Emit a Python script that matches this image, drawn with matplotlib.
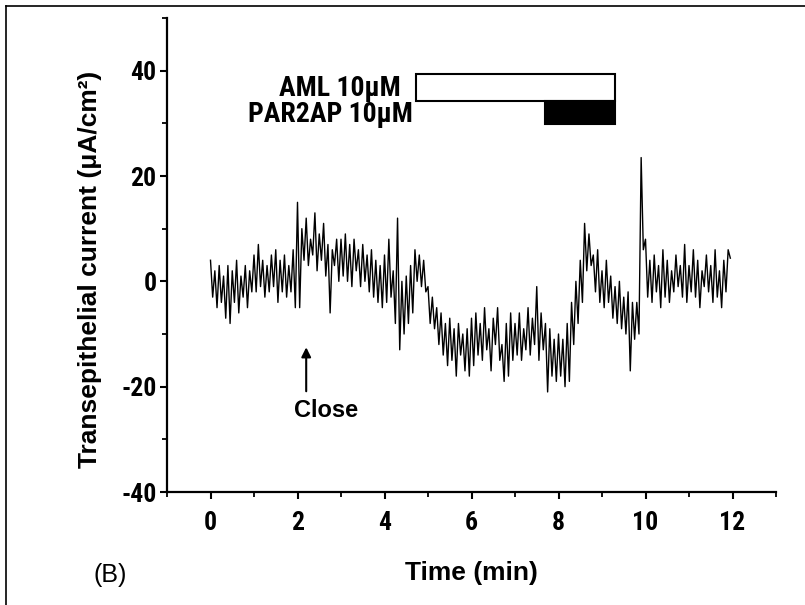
import numpy as np
import matplotlib
matplotlib.use("Agg")
import matplotlib.pyplot as plt
from matplotlib.patches import Rectangle
from matplotlib.lines import Line2D
from matplotlib.ticker import MultipleLocator
from matplotlib import font_manager

# ---- data (0.1 min steps, upper / lower envelope of the noisy trace)
time_start = 0.0
time_step = 0.1
trace_hi = [4, 2, 3, 1, 3, 2, 4, 1, 3, 2,
            5, 7, 4, 3, 5, 6, 4, 5, 3, 6,
            15, 10, 12, 8, 13, 9, 11, 7, 6, 8,
            8, 9, 7, 8, 6, 7, 5, 6, 4, 3,
            5, 8, 2, 12, 0, 1, 3, 6, 5, 4,
            -1, -3, -5, -6, -8, -7, -9, -8, -10, -9,
            -7, -6, -8, -5, -9, -7, -5, -12, -8, -6,
            -8, -6, -9, -5, -7, -1, -6, -8, -9, -11,
            -10, -11, -8, -4, 0, 4, 11, 9, 5, 6,
            2, 4, 1, -1, 0, -3, -2, -4, -4, 23.5,
            8, 4, 5, 3, 6, 4, 2, 5, 3, 7,
            3, 6, 4, 2, 5, 3, 6, 2, 4, 6]
trace_lo = [-3, -5, -4, -7, -8, -4, -6, -3, -5, -2,
            -2, -1, -3, -2, -1, -4, -2, -3, -2, -5,
            -5, 4, 3, 5, 2, 4, 1, -6, 3, 0,
            1, 0, -1, 2, -1, 0, -2, -3, -4, -5,
            -4, -3, -8, -13, -10, -8, -6, 0, -1, -2,
            -8, -9, -12, -14, -16, -15, -18, -14, -17, -18,
            -16, -14, -15, -13, -17, -12, -15, -19, -18, -15,
            -14, -15, -13, -14, -12, -15, -13, -21, -18, -19,
            -18, -20, -19, -12, -8, -4, 2, 3, -2, -4,
            -5, -4, -7, -8, -9, -10, -17, -11, -10, 6,
            -3, -4, -2, -5, -3, -4, -2, -1, -3, -4,
            -2, -3, -5, -1, -2, -4, -3, -5, -2, 4.4]

xticks = [0, 2, 4, 6, 8, 10, 12]
yticks = [-40, -20, 0, 20, 40]

# treatment bars (start, end in min)
aml_label = "AML 10μM"
aml_span = (4.72, 9.29)
par_label = "PAR2AP 10μM"
par_span = (7.68, 9.29)
close_time = 2.2

# ---- build the trace by interleaving the envelopes
hi = np.array(trace_hi, float)
lo = np.array(trace_lo, float)
t_hi = time_start + np.arange(len(hi)) * time_step
t_lo = t_hi + time_step / 2
t = np.empty(len(hi) * 2)
y = np.empty(len(hi) * 2)
t[0::2], t[1::2] = t_hi, t_lo
y[0::2], y[1::2] = hi, lo

plt.rcParams['font.family'] = ['Liberation Sans', 'DejaVu Sans']
plt.rcParams['axes.unicode_minus'] = False


def pick_narrow():
    for name in ['Liberation Sans Narrow', 'Arial Narrow', 'Roboto Condensed',
                 'Open Sans Condensed']:
        try:
            font_manager.findfont(font_manager.FontProperties(family=name),
                                  fallback_to_default=False)
            return [name, 'Liberation Sans', 'DejaVu Sans']
        except Exception:
            pass
    return ['Liberation Sans', 'DejaVu Sans']


narrow = pick_narrow()
narrow_is_real = narrow[0] != 'Liberation Sans'
tick_fs = 18.5 if narrow_is_real else 16
note_fs = 20 if narrow_is_real else 17

fig = plt.figure(figsize=(8.05, 6.05), dpi=100)
ax = fig.add_axes([167/805, 1 - 492/605, (776-167)/805, (492-18)/605])

ax.plot(t, y, color='black', lw=1.0)

ax.set_xlim(-1, 13)
ax.set_ylim(-40, 50)
ax.set_xticks(xticks)
ax.set_yticks(yticks)
ax.xaxis.set_minor_locator(MultipleLocator(1))
ax.yaxis.set_minor_locator(MultipleLocator(10))
for s in ['top', 'right']:
    ax.spines[s].set_visible(False)
for s in ['left', 'bottom']:
    ax.spines[s].set_linewidth(1.6)
ax.tick_params(which='major', direction='out', length=5, width=1.5)
ax.tick_params(which='minor', direction='out', length=3.5, width=1.3)
ax.tick_params(axis='x', which='major', pad=9)
ax.tick_params(axis='y', which='major', pad=2.5)
for lab in ax.get_xticklabels() + ax.get_yticklabels():
    lab.set_family(narrow)
    lab.set_fontweight('bold')
    lab.set_fontsize(tick_fs)

ax.set_xlabel("Time (min)", fontsize=19, fontweight='bold')
ax.xaxis.set_label_coords(0.5, -0.145)
ax.set_ylabel("Transepithelial current (μA/cm²)", fontsize=19, fontweight='bold')
ax.yaxis.set_label_coords(-0.107, 0.47)

# treatment bars
ax.add_patch(Rectangle((aml_span[0], 34.3), aml_span[1] - aml_span[0], 5.0,
                       facecolor='white', edgecolor='black', lw=1.5, zorder=3))
ax.add_patch(Rectangle((par_span[0], 29.8), par_span[1] - par_span[0], 4.5,
                       facecolor='black', edgecolor='black', lw=1.5, zorder=3))
ax.text(4.38, 36.6, aml_label, ha='right', va='center', fontsize=note_fs,
        fontweight='bold', family=narrow)
ax.text(4.66, 31.7, par_label, ha='right', va='center', fontsize=note_fs,
        fontweight='bold', family=narrow)

# close arrow
ax.annotate("", xy=(close_time, -12.0), xytext=(close_time, -21.4),
            arrowprops=dict(arrowstyle='-|>', color='black', lw=1.5,
                            mutation_scale=14))
ax.text(close_time + 0.45, -24.6, "Close", ha='center', va='center',
        fontsize=17, fontweight='bold')

# panel label and partial frame
fig.text(110/805, 1 - 575/605, "(B)", ha='center', va='center', fontsize=18)
fig.add_artist(Line2D([6/805, 6/805], [0, 1 - 6/605], transform=fig.transFigure,
                      color='black', lw=1.2))
fig.add_artist(Line2D([6/805, 1], [1 - 6/605, 1 - 6/605], transform=fig.transFigure,
                      color='black', lw=1.2))

fig.savefig("out.png", dpi=100)
